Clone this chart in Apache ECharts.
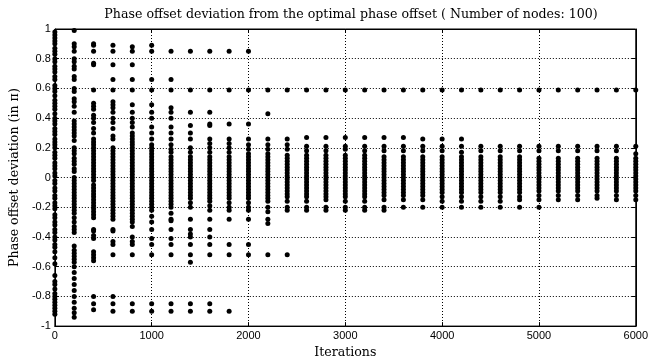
<!DOCTYPE html>
<html>
<head>
<meta charset="utf-8">
<script src="https://cdn.jsdelivr.net/npm/echarts@6/dist/echarts.min.js"></script>
<style>
  html, body { margin: 0; padding: 0; background: #fff; }
  #chart { width: 651px; height: 364px; }
</style>
</head>
<body>
<div id="chart"></div>
<script>
// iteration columns (x) and the phase offsets seen at each one (y, in pi)
var iterations = [0, 200, 400, 600, 800, 1000, 1200, 1400, 1600, 1800, 2000,
    2200, 2400, 2600, 2800, 3000, 3200, 3400, 3600, 3800, 4000,
    4200, 4400, 4600, 4800, 5000, 5200, 5400, 5600, 5800, 6000];

var dev0 = [0.98, 0.96, 0.94, 0.92, 0.9, 0.87, 0.85, 0.83, 0.8, 0.78, 0.75, 0.73, 0.71, 0.68, 0.66, 0.62, 0.6, 0.58, 0.55, 0.52, 0.5, 0.48, 0.46, 0.43, 0.4, 0.38, 0.36, 0.33, 0.31, 0.29, 0.26, 0.24, 0.22, 0.2, 0.17, 0.15, 0.13, 0.1, 0.08, 0.06, 0.03, 0.01, -0.02, -0.04, -0.07, -0.09, -0.12, -0.14, -0.17, -0.19, -0.21, -0.25, -0.27, -0.3, -0.32, -0.35, -0.37, -0.4, -0.42, -0.45, -0.47, -0.5, -0.54, -0.58, -0.66, -0.7, -0.72, -0.75, -0.78, -0.8, -0.82, -0.84, -0.86, -0.88, -0.9, -0.92];
var dev200 = [0.99, 0.9, 0.88, 0.85, 0.8, 0.78, 0.75, 0.73, 0.68, 0.66, 0.6, 0.58, 0.53, 0.51, 0.48, 0.44, 0.38, 0.36, 0.34, 0.32, 0.3, 0.28, 0.25, 0.2, 0.18, 0.16, 0.13, 0.11, 0.09, 0.06, 0.04, 0.0, -0.02, -0.04, -0.06, -0.08, -0.1, -0.12, -0.14, -0.16, -0.18, -0.2, -0.22, -0.24, -0.27, -0.3, -0.33, -0.35, -0.37, -0.46, -0.49, -0.51, -0.53, -0.55, -0.57, -0.6, -0.64, -0.68, -0.72, -0.76, -0.8, -0.84, -0.88, -0.91, -0.94];
var dev400 = [0.9, 0.89, 0.85, 0.77, 0.76, 0.59, 0.5, 0.48, 0.46, 0.42, 0.4, 0.37, 0.33, 0.3, 0.26, 0.24, 0.22, 0.2, 0.18, 0.16, 0.14, 0.12, 0.1, 0.08, 0.06, 0.04, 0.02, 0.0, -0.02, -0.05, -0.07, -0.09, -0.11, -0.13, -0.15, -0.17, -0.19, -0.21, -0.23, -0.25, -0.27, -0.35, -0.36, -0.39, -0.41, -0.5, -0.52, -0.54, -0.56, -0.8, -0.85, -0.89];
var dev600 = [0.89, 0.85, 0.76, 0.66, 0.59, 0.51, 0.49, 0.47, 0.44, 0.4, 0.37, 0.33, 0.28, 0.26, 0.2, 0.18, 0.16, 0.14, 0.12, 0.1, 0.08, 0.06, 0.04, 0.02, 0.0, -0.02, -0.04, -0.06, -0.08, -0.1, -0.12, -0.14, -0.16, -0.18, -0.2, -0.22, -0.24, -0.26, -0.28, -0.35, -0.36, -0.43, -0.45, -0.52, -0.8, -0.85, -0.9];
var dev800 = [0.88, 0.85, 0.76, 0.66, 0.59, 0.49, 0.44, 0.4, 0.37, 0.34, 0.3, 0.28, 0.26, 0.24, 0.22, 0.2, 0.18, 0.16, 0.14, 0.12, 0.1, 0.08, 0.06, 0.04, 0.02, 0.0, -0.02, -0.04, -0.06, -0.08, -0.1, -0.12, -0.14, -0.16, -0.18, -0.2, -0.22, -0.24, -0.26, -0.28, -0.3, -0.33, -0.4, -0.43, -0.45, -0.52, -0.85, -0.9];
var dev1000 = [0.89, 0.85, 0.66, 0.59, 0.49, 0.44, 0.4, 0.34, 0.3, 0.26, 0.22, 0.2, 0.18, 0.16, 0.14, 0.12, 0.1, 0.08, 0.06, 0.04, 0.02, 0.0, -0.02, -0.04, -0.06, -0.08, -0.1, -0.12, -0.14, -0.16, -0.18, -0.2, -0.22, -0.26, -0.3, -0.35, -0.41, -0.45, -0.52, -0.85, -0.9];
var dev1200 = [0.85, 0.66, 0.59, 0.47, 0.44, 0.4, 0.34, 0.3, 0.26, 0.22, 0.19, 0.17, 0.14, 0.12, 0.1, 0.08, 0.06, 0.04, 0.02, 0.0, -0.02, -0.04, -0.06, -0.08, -0.1, -0.12, -0.14, -0.16, -0.18, -0.2, -0.24, -0.28, -0.29, -0.35, -0.41, -0.45, -0.52, -0.85, -0.9];
var dev1400 = [0.85, 0.59, 0.44, 0.35, 0.3, 0.26, 0.2, 0.17, 0.14, 0.12, 0.1, 0.08, 0.06, 0.04, 0.02, 0.0, -0.02, -0.04, -0.06, -0.08, -0.1, -0.12, -0.14, -0.17, -0.2, -0.28, -0.35, -0.38, -0.4, -0.45, -0.52, -0.57, -0.85, -0.9];
var dev1600 = [0.85, 0.59, 0.44, 0.36, 0.35, 0.26, 0.23, 0.2, 0.17, 0.14, 0.12, 0.1, 0.08, 0.06, 0.04, 0.02, 0.0, -0.02, -0.04, -0.06, -0.08, -0.1, -0.12, -0.14, -0.16, -0.19, -0.22, -0.28, -0.35, -0.4, -0.45, -0.52, -0.85, -0.9];
var dev1800 = [0.85, 0.59, 0.36, 0.26, 0.23, 0.2, 0.17, 0.14, 0.12, 0.1, 0.08, 0.06, 0.04, 0.02, 0.0, -0.02, -0.04, -0.06, -0.08, -0.1, -0.12, -0.14, -0.17, -0.2, -0.22, -0.28, -0.45, -0.52, -0.9];
var dev2000 = [0.85, 0.59, 0.36, 0.26, 0.22, 0.19, 0.16, 0.14, 0.12, 0.1, 0.08, 0.06, 0.04, 0.02, 0.0, -0.02, -0.04, -0.06, -0.08, -0.1, -0.12, -0.14, -0.17, -0.2, -0.22, -0.28, -0.45, -0.52];
var dev2200 = [0.59, 0.43, 0.26, 0.22, 0.19, 0.16, 0.14, 0.12, 0.1, 0.08, 0.06, 0.04, 0.02, 0.0, -0.02, -0.04, -0.06, -0.08, -0.1, -0.12, -0.14, -0.16, -0.2, -0.23, -0.28, -0.31, -0.52];
var dev2400 = [0.59, 0.26, 0.22, 0.19, 0.15, 0.13, 0.11, 0.09, 0.07, 0.05, 0.03, 0.01, -0.01, -0.03, -0.05, -0.07, -0.09, -0.11, -0.13, -0.16, -0.2, -0.22, -0.52];
var dev2600 = [0.59, 0.27, 0.21, 0.18, 0.15, 0.13, 0.11, 0.09, 0.07, 0.05, 0.03, 0.01, -0.01, -0.03, -0.05, -0.07, -0.09, -0.11, -0.13, -0.16, -0.2, -0.22];
var dev2800 = [0.59, 0.27, 0.21, 0.18, 0.15, 0.13, 0.11, 0.09, 0.07, 0.05, 0.03, 0.01, -0.01, -0.03, -0.05, -0.07, -0.09, -0.11, -0.13, -0.15, -0.2, -0.22];
var dev3000 = [0.59, 0.27, 0.21, 0.19, 0.15, 0.13, 0.11, 0.09, 0.07, 0.05, 0.03, 0.01, -0.01, -0.03, -0.05, -0.07, -0.09, -0.11, -0.13, -0.16, -0.2, -0.22];
var dev3200 = [0.59, 0.27, 0.21, 0.18, 0.15, 0.13, 0.11, 0.09, 0.07, 0.05, 0.03, 0.01, -0.01, -0.03, -0.05, -0.07, -0.09, -0.11, -0.13, -0.16, -0.2, -0.22];
var dev3400 = [0.59, 0.27, 0.21, 0.18, 0.14, 0.12, 0.1, 0.08, 0.06, 0.04, 0.02, 0.0, -0.02, -0.04, -0.06, -0.08, -0.1, -0.12, -0.15, -0.2, -0.22];
var dev3600 = [0.59, 0.27, 0.21, 0.18, 0.14, 0.12, 0.1, 0.08, 0.06, 0.04, 0.02, 0.0, -0.02, -0.04, -0.06, -0.08, -0.1, -0.12, -0.15, -0.2];
var dev3800 = [0.59, 0.26, 0.21, 0.18, 0.14, 0.12, 0.1, 0.08, 0.06, 0.04, 0.02, 0.0, -0.02, -0.04, -0.06, -0.08, -0.1, -0.12, -0.15, -0.2];
var dev4000 = [0.59, 0.26, 0.21, 0.18, 0.14, 0.12, 0.1, 0.08, 0.06, 0.04, 0.02, 0.0, -0.02, -0.04, -0.06, -0.08, -0.1, -0.13, -0.16, -0.2];
var dev4200 = [0.59, 0.26, 0.21, 0.17, 0.14, 0.12, 0.1, 0.08, 0.06, 0.04, 0.02, 0.0, -0.02, -0.04, -0.06, -0.08, -0.1, -0.13, -0.16, -0.2];
var dev4400 = [0.59, 0.21, 0.18, 0.14, 0.12, 0.1, 0.08, 0.06, 0.04, 0.02, 0.0, -0.02, -0.04, -0.06, -0.08, -0.1, -0.13, -0.16, -0.2];
var dev4600 = [0.59, 0.21, 0.18, 0.14, 0.12, 0.1, 0.08, 0.06, 0.04, 0.02, 0.0, -0.02, -0.04, -0.06, -0.08, -0.1, -0.13, -0.16, -0.2];
var dev4800 = [0.59, 0.21, 0.18, 0.14, 0.12, 0.1, 0.08, 0.06, 0.04, 0.02, 0.0, -0.02, -0.04, -0.06, -0.08, -0.1, -0.13, -0.15, -0.2];
var dev5000 = [0.59, 0.21, 0.18, 0.13, 0.11, 0.09, 0.07, 0.05, 0.03, 0.01, -0.01, -0.03, -0.05, -0.07, -0.09, -0.12, -0.15, -0.2];
var dev5200 = [0.59, 0.21, 0.18, 0.13, 0.11, 0.09, 0.07, 0.05, 0.03, 0.01, -0.01, -0.03, -0.05, -0.07, -0.09, -0.12, -0.15];
var dev5400 = [0.59, 0.21, 0.18, 0.13, 0.11, 0.09, 0.07, 0.05, 0.03, 0.01, -0.01, -0.03, -0.05, -0.07, -0.09, -0.12, -0.15];
var dev5600 = [0.59, 0.21, 0.18, 0.13, 0.11, 0.09, 0.07, 0.05, 0.03, 0.01, -0.01, -0.03, -0.05, -0.07, -0.09, -0.12, -0.14];
var dev5800 = [0.59, 0.21, 0.18, 0.13, 0.11, 0.09, 0.07, 0.05, 0.03, 0.01, -0.01, -0.03, -0.05, -0.07, -0.09, -0.12, -0.15];
var dev6000 = [0.59, 0.21, 0.16, 0.13, 0.11, 0.09, 0.07, 0.05, 0.03, 0.01, -0.01, -0.03, -0.05, -0.07, -0.09, -0.12, -0.15];

var deviations = [dev0, dev200, dev400, dev600, dev800, dev1000, dev1200, dev1400, dev1600, dev1800, dev2000,
    dev2200, dev2400, dev2600, dev2800, dev3000, dev3200, dev3400, dev3600, dev3800, dev4000,
    dev4200, dev4400, dev4600, dev4800, dev5000, dev5200, dev5400, dev5600, dev5800, dev6000];

var points = [];
iterations.forEach(function (it, i) {
    deviations[i].forEach(function (d) {
        points.push([it, d]);
    });
});

var myChart = echarts.init(document.getElementById('chart'));

var gridLine = { show: true, lineStyle: { color: '#000', type: [1, 2], width: 1 } };
var tickIn = { show: true, inside: true, length: 4, lineStyle: { color: '#000' } };
var tickFont = { color: '#000', fontFamily: 'Liberation Sans, Arial, sans-serif', fontSize: 11 };
var serif = 'DejaVu Serif, serif';

var option = {
    backgroundColor: '#fff',
    animation: false,
    title: {
        text: 'Phase offset deviation from the optimal phase offset ( Number of nodes: 100)',
        left: 346,
        top: 3,
        textAlign: 'center',
        textStyle: { fontFamily: serif, fontSize: 12.6, fontWeight: 'normal', color: '#000' }
    },
    grid: { left: 53, right: 12, top: 29, bottom: 29, show: true, borderColor: '#000', borderWidth: 1 },
    xAxis: [
        {
            type: 'value', min: 0, max: 6000, interval: 1000,
            name: 'Iterations', nameLocation: 'middle', nameGap: 17,
            nameTextStyle: { fontFamily: serif, fontSize: 12.6, color: '#000' },
            axisLine: { show: true, onZero: false, lineStyle: { color: '#000' } },
            axisTick: tickIn,
            axisLabel: Object.assign({ margin: 4, formatter: function (v) { return String(v); } }, tickFont),
            splitLine: gridLine
        },
        {
            type: 'value', min: 0, max: 6000, interval: 1000, position: 'top',
            axisLine: { show: true, onZero: false, lineStyle: { color: '#000' } },
            axisTick: tickIn, axisLabel: { show: false }, splitLine: { show: false }
        }
    ],
    yAxis: [
        {
            type: 'value', min: -1, max: 1, interval: 0.2,
            name: 'Phase offset deviation (in π)', nameLocation: 'middle', nameGap: 30,
            nameTextStyle: { fontFamily: serif, fontSize: 12.6, color: '#000' },
            axisLine: { show: true, onZero: false, lineStyle: { color: '#000' } },
            axisTick: tickIn,
            axisLabel: Object.assign({ margin: 4 }, tickFont),
            splitLine: gridLine
        },
        {
            type: 'value', min: -1, max: 1, interval: 0.2, position: 'right',
            axisLine: { show: true, onZero: false, lineStyle: { color: '#000' } },
            axisTick: tickIn, axisLabel: { show: false }, splitLine: { show: false }
        }
    ],
    series: [
        {
            type: 'scatter',
            clip: false,
            symbol: 'circle',
            symbolSize: 5,
            itemStyle: { color: '#000', opacity: 1 },
            data: points
        }
    ]
};

myChart.setOption(option);
</script>
</body>
</html>
